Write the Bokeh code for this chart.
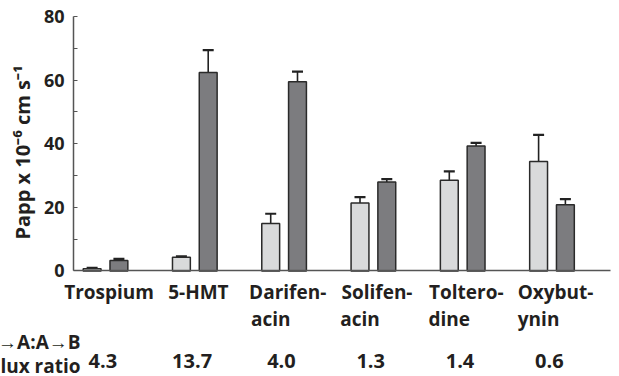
import math
from bokeh.plotting import figure
from bokeh.models import ColumnDataSource, Whisker, TeeHead, FixedTicker, Range1d
from bokeh.core.properties import value
from bokeh.embed import file_html
from bokeh.resources import INLINE

# ---- data ----
drugs = ["Trospium", "5-HMT", "Darifenacin", "Solifenacin", "Tolterodine", "Oxybutynin"]
label_line1 = ["Trospium", "5-HMT", "Darifen-", "Solifen-", "Toltero-", "Oxybut-"]
label_line2 = ["", "", "acin", "acin", "dine", "ynin"]
papp_ab = [0.7, 4.3, 14.9, 21.4, 28.5, 34.4]      # A->B (light bars)
papp_ab_err = [0.3, 0.3, 3.1, 1.8, 2.8, 8.4]
papp_ba = [3.3, 62.4, 59.5, 28.0, 39.3, 20.8]     # B->A (dark bars)
papp_ba_err = [0.5, 7.0, 3.2, 0.9, 1.0, 1.8]
flux_ratio = ["4.3", "13.7", "4.0", "1.3", "1.4", "0.6"]
ratio_title = ["B\u2192A:A\u2192B", "Flux ratio"]
y_ticks = [0, 10, 20, 30, 40, 50, 60, 70, 80]
y_labels = {0: "0", 10: "", 20: "20", 30: "", 40: "40", 50: "", 60: "60", 70: "", 80: "80"}
y_title = "Papp x 10\u207b\u2076 cm s\u207b\u00b9"

FONT = "Open Sans"
TXT = "#231f20"
AX = "#555555"
idx = list(range(len(drugs)))
off = 0.15
bw = 0.2

# value axis spans 0..80, category axis spans XS..XE; the frame is extended
# around them so that all labels sit inside the frame
XS, XE = -0.358, 5.655
YMAX = 80

p = figure(width=619, height=376, output_backend="svg", toolbar_location=None,
           x_range=Range1d(-1.176, 5.756), y_range=Range1d(-33.17, 85.03),
           min_border=0, min_border_left=0, min_border_right=0,
           min_border_top=0, min_border_bottom=0)
p.outline_line_color = None
p.xgrid.visible = False
p.ygrid.visible = False

src_ab = ColumnDataSource(dict(x=[i - off for i in idx], top=papp_ab,
                               upper=[v + e for v, e in zip(papp_ab, papp_ab_err)]))
src_ba = ColumnDataSource(dict(x=[i + off for i in idx], top=papp_ba,
                               upper=[v + e for v, e in zip(papp_ba, papp_ba_err)]))

for src in (src_ab, src_ba):
    w = Whisker(source=src, base="x", lower="top", upper="upper",
                line_color="#222222", line_width=1.6,
                upper_head=TeeHead(size=11, line_color="#222222", line_width=2.2),
                lower_head=None, level="underlay")
    p.add_layout(w)

p.vbar(x="x", top="top", width=bw, source=src_ab, fill_color="#d9dadb",
       line_color="#2a2a2a", line_width=1.5)
p.vbar(x="x", top="top", width=bw, source=src_ba, fill_color="#7c7c7f",
       line_color="#2a2a2a", line_width=1.5)

# y axis, pinned at the left end of the category span
ya = p.yaxis[0]
ya.fixed_location = XS
ya.bounds = (0, YMAX)
ya.ticker = FixedTicker(ticks=y_ticks)
ya.major_label_overrides = y_labels
ya.major_tick_in = 4
ya.major_tick_out = 0
ya.minor_tick_line_color = None
ya.axis_line_color = AX
ya.axis_line_width = 1.5
ya.major_tick_line_color = AX
ya.major_tick_line_width = 1.2
ya.major_label_text_font = FONT
ya.major_label_text_font_style = "bold"
ya.major_label_text_font_size = "18px"
ya.major_label_text_color = TXT
ya.major_label_standoff = 9

# x axis: plain baseline at y = 0
xa = p.xaxis[0]
xa.fixed_location = 0
xa.bounds = (XS, XE)
xa.ticker = FixedTicker(ticks=[])
xa.axis_line_color = AX
xa.axis_line_width = 1.5
xa.major_tick_line_color = None
xa.minor_tick_line_color = None
xa.major_label_text_font_size = "0px"

common = dict(text_font=value(FONT), text_font_style="bold", text_color=TXT,
              text_baseline="alphabetic")

# y axis title
p.text(x=[-0.929], y=[37.25], text=[y_title], angle=math.pi / 2,
       text_font_size="20px", text_align="center",
       text_font=value(FONT), text_font_style="bold", text_color=TXT,
       text_baseline="middle")

# category labels, flux ratios
p.text(x=[i + 0.04 for i in idx], y=[-6.76] * len(idx), text=label_line1,
       text_font_size="19px", text_align="center", **common)
l2 = [i for i in idx if label_line2[i]]
p.text(x=[i - 0.15 for i in l2], y=[-15.24] * len(l2), text=[label_line2[i] for i in l2],
       text_font_size="19px", text_align="center", **common)
p.text(x=[i - 0.03 for i in idx], y=[-28.45] * len(idx), text=flux_ratio,
       text_font_size="20px", text_align="center", **common)
p.text(x=[-0.28, -0.28], y=[-22.47, -29.79], text=ratio_title,
       text_font_size="19px", text_align="right", **common)

open("out.html", "w").write(file_html(p, INLINE))
